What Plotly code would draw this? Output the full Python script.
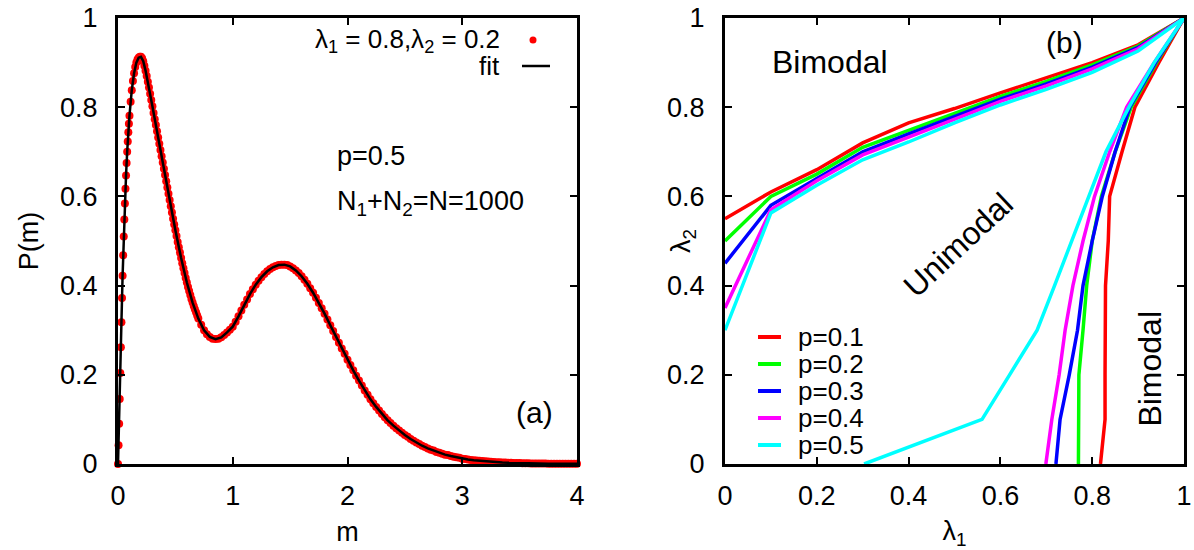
import plotly.graph_objects as go

# ---------------- panel (a): distribution P(m) ----------------
m_obs = [
    0.000, 0.005, 0.010, 0.015, 0.020, 0.025, 0.030, 0.035, 0.040, 0.045,
    0.050, 0.055, 0.060, 0.065, 0.070, 0.075, 0.080, 0.085, 0.090, 0.095,
    0.100,
    0.11, 0.12, 0.13, 0.14, 0.15, 0.16, 0.17, 0.18, 0.19, 0.20,
    0.21, 0.22, 0.23, 0.24, 0.25, 0.26, 0.27, 0.28, 0.29, 0.30,
    0.31, 0.32, 0.33, 0.34, 0.35, 0.36, 0.37, 0.38, 0.39, 0.40,
    0.41, 0.42, 0.43, 0.44, 0.45, 0.46, 0.47, 0.48, 0.49, 0.50,
    0.51, 0.52, 0.53, 0.54, 0.55, 0.56, 0.57, 0.58, 0.59, 0.60,
    0.61, 0.62, 0.63, 0.64, 0.65, 0.66, 0.67, 0.68, 0.69, 0.70,
    0.725, 0.75, 0.775, 0.80, 0.825, 0.85,
    0.875, 0.90, 0.925, 0.95, 0.975, 1.00, 1.025, 1.05, 1.075, 1.10,
    1.125, 1.15, 1.175, 1.20, 1.225, 1.25, 1.275, 1.30, 1.325, 1.35,
    1.375, 1.40, 1.425, 1.45, 1.475, 1.50, 1.525, 1.55, 1.575, 1.60,
    1.625, 1.65, 1.675, 1.70, 1.725, 1.75, 1.775, 1.80, 1.825, 1.85,
    1.875, 1.90, 1.925, 1.95, 1.975, 2.00, 2.025, 2.05, 2.075, 2.10,
    2.125, 2.15, 2.175, 2.20, 2.225, 2.25, 2.275, 2.30, 2.325, 2.35,
    2.375, 2.40, 2.425, 2.45, 2.475, 2.50, 2.525, 2.55, 2.575, 2.60,
    2.625, 2.65, 2.675, 2.70, 2.725, 2.75, 2.775, 2.80, 2.825, 2.85,
    2.875, 2.90, 2.925, 2.95, 2.975, 3.00, 3.025, 3.05, 3.075, 3.10,
    3.125, 3.15, 3.175, 3.20, 3.225, 3.25, 3.275, 3.30, 3.325, 3.35,
    3.375, 3.40, 3.425, 3.45, 3.475, 3.50, 3.525, 3.55, 3.575, 3.60,
    3.625, 3.65, 3.675, 3.70, 3.725, 3.75, 3.775, 3.80, 3.825, 3.85,
    3.875, 3.90, 3.925, 3.95, 3.975, 4.00,
]
P_obs = [
    0.000, 0.042, 0.090, 0.146, 0.204, 0.262, 0.318, 0.372, 0.422, 0.468,
    0.510, 0.548, 0.584, 0.617, 0.647, 0.675, 0.700, 0.723, 0.744, 0.763,
    0.781,
    0.812, 0.838, 0.859, 0.876, 0.890, 0.900, 0.907, 0.911, 0.913, 0.913,
    0.910, 0.903, 0.893, 0.882, 0.870, 0.857, 0.844, 0.830, 0.816, 0.802,
    0.787, 0.773, 0.760, 0.746, 0.732, 0.718, 0.704, 0.690, 0.676, 0.662,
    0.648, 0.634, 0.620, 0.606, 0.592, 0.578, 0.564, 0.550, 0.537, 0.524,
    0.511, 0.498, 0.486, 0.474, 0.462, 0.450, 0.439, 0.428, 0.417, 0.407,
    0.397, 0.388, 0.379, 0.370, 0.362, 0.354, 0.347, 0.340, 0.333, 0.326,
    0.312, 0.300, 0.291, 0.285, 0.281, 0.280,
    0.281, 0.284, 0.289, 0.295, 0.301, 0.308, 0.319, 0.331, 0.344, 0.357,
    0.369, 0.381, 0.392, 0.402, 0.411, 0.419, 0.426, 0.432, 0.437, 0.441,
    0.444, 0.446, 0.447, 0.447, 0.446, 0.443, 0.439, 0.434, 0.428, 0.421,
    0.413, 0.404, 0.394, 0.384, 0.373, 0.361, 0.349, 0.337, 0.324, 0.311,
    0.298, 0.285, 0.272, 0.259, 0.247, 0.234, 0.222, 0.210, 0.198, 0.187,
    0.176, 0.165, 0.155, 0.145, 0.136, 0.128, 0.120, 0.112, 0.105, 0.098,
    0.092, 0.086, 0.080, 0.075, 0.070, 0.065, 0.061, 0.056, 0.052, 0.048,
    0.045, 0.041, 0.038, 0.035, 0.032, 0.030, 0.027, 0.025, 0.023, 0.021,
    0.020, 0.018, 0.016, 0.015, 0.014, 0.012, 0.011, 0.010, 0.0092, 0.0085,
    0.0078, 0.0072, 0.0066, 0.0060, 0.0055, 0.0050, 0.0046, 0.0042, 0.0038, 0.0035,
    0.0032, 0.0029, 0.0027, 0.0024, 0.0022, 0.0020, 0.0018, 0.0017, 0.0015, 0.0014,
    0.0013, 0.0012, 0.0011, 0.0010, 0.0009, 0.0008, 0.0008, 0.0007, 0.0006, 0.0006,
    0.0005, 0.0005, 0.0004, 0.0004, 0.0004, 0.0003,
]

m_fit = [
    0.00, 0.01, 0.02, 0.03, 0.04, 0.05, 0.06, 0.07, 0.08, 0.09, 0.10,
    0.12, 0.14, 0.16, 0.18, 0.20, 0.22, 0.24, 0.26, 0.28, 0.30,
    0.35, 0.40, 0.45, 0.50, 0.55, 0.60, 0.65, 0.70, 0.75, 0.80,
    0.85, 0.90, 0.95, 1.00, 1.05, 1.10, 1.15, 1.20, 1.25, 1.30,
    1.35, 1.40, 1.45, 1.50, 1.55, 1.60, 1.65, 1.70, 1.75, 1.80,
    1.85, 1.90, 1.95, 2.00, 2.05, 2.10, 2.15, 2.20, 2.25, 2.30,
    2.35, 2.40, 2.45, 2.50, 2.55, 2.60, 2.65, 2.70, 2.75, 2.80,
    2.85, 2.90, 2.95, 3.00, 3.05, 3.10, 3.15, 3.20, 3.25, 3.30,
    3.35, 3.40, 3.45, 3.50, 3.55, 3.60, 3.65, 3.70, 3.75, 3.80,
    3.85, 3.90, 3.95, 4.00,
]
P_fit = [
    0.000, 0.090, 0.204, 0.318, 0.422, 0.510, 0.584, 0.647, 0.700, 0.744, 0.781,
    0.838, 0.876, 0.900, 0.911, 0.913, 0.903, 0.882, 0.857, 0.830, 0.802,
    0.732, 0.662, 0.592, 0.524, 0.462, 0.407, 0.362, 0.326, 0.300, 0.285,
    0.280, 0.284, 0.295, 0.308, 0.331, 0.357, 0.381, 0.402, 0.419, 0.432,
    0.441, 0.446, 0.447, 0.443, 0.434, 0.421, 0.404, 0.384, 0.361, 0.337,
    0.311, 0.285, 0.259, 0.234, 0.210, 0.187, 0.165, 0.145, 0.128, 0.112,
    0.098, 0.086, 0.075, 0.065, 0.056, 0.048, 0.041, 0.035, 0.030, 0.025,
    0.021, 0.018, 0.015, 0.012, 0.010, 0.0085, 0.0072, 0.0060, 0.0050, 0.0042,
    0.0035, 0.0029, 0.0024, 0.0020, 0.0017, 0.0014, 0.0012, 0.0010, 0.0008, 0.0007,
    0.0006, 0.0005, 0.0004, 0.0003,
]

# ---------------- panel (b): phase boundaries ----------------
p_labels = ["p=0.1", "p=0.2", "p=0.3", "p=0.4", "p=0.5"]
p_colors = ["#ff0000", "#00ff00", "#0000ff", "#ff00ff", "#00ffff"]

# upper boundary (bimodal above / unimodal below), lambda2 versus lambda1
lam1_upper = [0.0, 0.1, 0.2, 0.3, 0.4, 0.5, 0.6, 0.7, 0.8, 0.9, 1.0]
lam2_upper_p1 = [0.55, 0.61, 0.66, 0.72, 0.765, 0.797, 0.832, 0.865, 0.900, 0.940, 1.0]
lam2_upper_p2 = [0.50, 0.60, 0.65, 0.71, 0.748, 0.787, 0.824, 0.858, 0.895, 0.937, 1.0]
lam2_upper_p3 = [0.45, 0.58, 0.64, 0.70, 0.740, 0.780, 0.818, 0.852, 0.890, 0.934, 1.0]
lam2_upper_p4 = [0.35, 0.57, 0.635, 0.693, 0.733, 0.774, 0.813, 0.848, 0.886, 0.931, 1.0]
lam2_upper_p5 = [0.30, 0.563, 0.625, 0.682, 0.722, 0.765, 0.805, 0.840, 0.878, 0.926, 1.0]

# lower-right boundary (unimodal left / bimodal right), lambda1 versus lambda2
lam2_lower = [0.0, 0.1, 0.2, 0.3, 0.4, 0.5, 0.6, 0.7, 0.8, 0.9, 1.0]
lam1_lower_p1 = [0.818, 0.828, 0.828, 0.828, 0.829, 0.835, 0.838, 0.865, 0.893, 0.945, 1.0]
lam1_lower_p2 = [0.770, 0.770, 0.771, 0.780, 0.788, 0.800, 0.820, 0.850, 0.885, 0.940, 1.0]
lam1_lower_p3 = [0.721, 0.730, 0.750, 0.768, 0.780, 0.800, 0.822, 0.850, 0.882, 0.938, 1.0]
lam1_lower_p4 = [0.699, 0.712, 0.728, 0.741, 0.758, 0.780, 0.805, 0.838, 0.875, 0.935, 1.0]
lam1_lower_p5 = [0.303, 0.560, 0.620, 0.680, 0.718, 0.755, 0.793, 0.830, 0.880, 0.935, 1.0]

upper_sets = [lam2_upper_p1, lam2_upper_p2, lam2_upper_p3, lam2_upper_p4, lam2_upper_p5]
lower_sets = [lam1_lower_p1, lam1_lower_p2, lam1_lower_p3, lam1_lower_p4, lam1_lower_p5]

# ---------------- figure ----------------
W, H = 1194, 550
FONT = "Liberation Sans, Arial, Helvetica, sans-serif"
TICK_SIZE = 27
TEXT_SIZE = 27
KEY_SIZE = 26
REGION_SIZE = 32


def px(x):
    return x / W


def py(y):
    return 1 - y / H


fig = go.Figure()

fig.add_trace(go.Scatter(
    x=m_obs, y=P_obs, mode="markers", name="λ1 = 0.8,λ2 = 0.2",
    marker=dict(color="#ff0000", size=8, line=dict(width=0)),
    cliponaxis=False, showlegend=False, xaxis="x", yaxis="y",
))
fig.add_trace(go.Scatter(
    x=m_fit, y=P_fit, mode="lines", name="fit",
    line=dict(color="black", width=2.5),
    showlegend=False, xaxis="x", yaxis="y",
))

for label, color, up, low in zip(p_labels, p_colors, upper_sets, lower_sets):
    fig.add_trace(go.Scatter(
        x=lam1_upper + [None] + low,
        y=up + [None] + lam2_lower,
        mode="lines", name=label,
        line=dict(color=color, width=3.5),
        connectgaps=False, showlegend=False, cliponaxis=False,
        xaxis="x2", yaxis="y2",
    ))

axis_common = dict(
    showline=True, linecolor="black", linewidth=3, mirror="ticks",
    ticks="inside", ticklen=7, tickwidth=2, tickcolor="black",
    showgrid=False, zeroline=False, automargin=False,
    tickfont=dict(family=FONT, size=TICK_SIZE, color="black"),
    title_font=dict(family=FONT, size=TEXT_SIZE, color="black"),
)

y_dom = [1 - 464 / H, 1 - 18 / H]

fig.update_layout(
    width=W, height=H,
    margin=dict(l=0, r=0, t=0, b=0, autoexpand=False),
    paper_bgcolor="white", plot_bgcolor="white",
    font=dict(family=FONT, size=TEXT_SIZE, color="black"),
    xaxis=dict(axis_common, domain=[px(118), px(577)], range=[0, 4], dtick=1,
               anchor="y", title=dict(text="m", standoff=12), ticklabelstandoff=6),
    yaxis=dict(axis_common, domain=y_dom, range=[0, 1], dtick=0.2,
               anchor="x", title=dict(text="P(m)", standoff=14), ticklabelstandoff=12),
    xaxis2=dict(axis_common, domain=[px(725), px(1184)], range=[0, 1], dtick=0.2,
                anchor="y2", title=dict(text="λ<sub>1</sub>", standoff=12), ticklabelstandoff=6),
    yaxis2=dict(axis_common, domain=y_dom, range=[0, 1], dtick=0.2,
                anchor="x2", ticklabelstandoff=12),
    showlegend=False,
)

annotations = [
    # panel (a) texts
    dict(x=px(335), y=py(156), xref="paper", yref="paper", xanchor="left",
         text="p=0.5"),
    dict(x=px(335), y=py(203), xref="paper", yref="paper", xanchor="left",
         text="N<sub>1</sub>+N<sub>2</sub>=N=1000"),
    dict(x=px(514), y=py(412), xref="paper", yref="paper", xanchor="left",
         text="(a)", font=dict(size=30)),
    # panel (a) key
    dict(x=px(502), y=py(40), xref="paper", yref="paper", xanchor="right",
         text="λ<sub>1</sub> = 0.8,λ<sub>2</sub> = 0.2", font=dict(size=KEY_SIZE)),
    dict(x=px(502), y=py(66), xref="paper", yref="paper", xanchor="right",
         text="fit", font=dict(size=KEY_SIZE)),
    # panel (b) y title, set between the tick labels
    dict(x=px(683), y=py(241), xref="paper", yref="paper",
         text="λ<sub>2</sub>", textangle=-90),
    # panel (b) texts
    dict(x=px(1044), y=py(42), xref="paper", yref="paper", xanchor="left",
         text="(b)", font=dict(size=30)),
    dict(x=px(770), y=py(62), xref="paper", yref="paper", xanchor="left",
         text="Bimodal", font=dict(size=REGION_SIZE)),
    dict(x=0.508, y=0.49, xref="x2", yref="y2", text="Unimodal",
         textangle=-43, font=dict(size=REGION_SIZE)),
    dict(x=0.926, y=0.214, xref="x2", yref="y2", text="Bimodal",
         textangle=-90, font=dict(size=REGION_SIZE)),
]

shapes = [
    dict(type="circle", xref="paper", yref="paper",
         x0=px(529.5), x1=px(536.5), y0=py(43.5), y1=py(36.5),
         fillcolor="#ff0000", line=dict(width=0)),
    dict(type="line", xref="paper", yref="paper",
         x0=px(522), x1=px(550), y0=py(66), y1=py(66),
         line=dict(color="black", width=2.5)),
]

# panel (b) key
key_rows = [337, 364, 391, 418, 445]
for label, color, row in zip(p_labels, p_colors, key_rows):
    shapes.append(dict(type="line", xref="paper", yref="paper",
                       x0=px(758), x1=px(781), y0=py(row), y1=py(row),
                       line=dict(color=color, width=4)))
    annotations.append(dict(x=px(796), y=py(row), xref="paper", yref="paper",
                            xanchor="left", text=label, font=dict(size=KEY_SIZE)))

for a in annotations:
    a.setdefault("showarrow", False)
    a.setdefault("yanchor", "middle")

fig.update_layout(annotations=annotations, shapes=shapes)

fig.write_html("out.html")
